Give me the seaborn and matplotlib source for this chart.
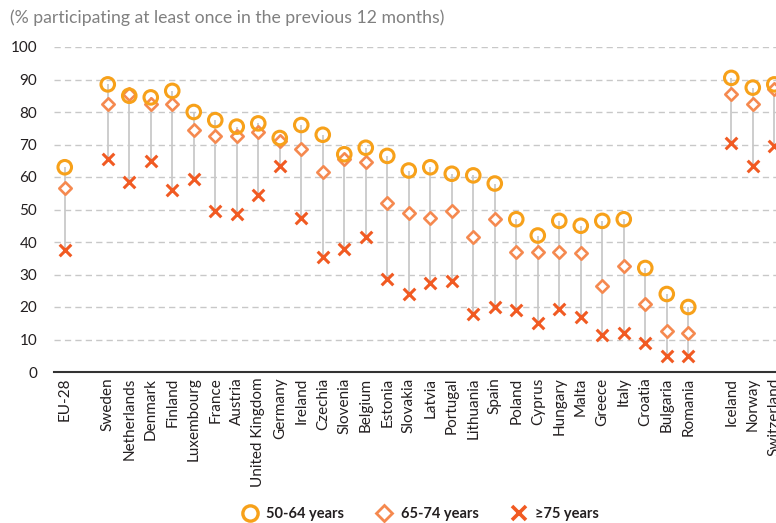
import matplotlib
matplotlib.use("Agg")
import matplotlib.pyplot as plt
from matplotlib.lines import Line2D
import seaborn as sns
import pandas as pd
import numpy as np

categories = ["EU-28", "", "Sweden", "Netherlands", "Denmark", "Finland", "Luxembourg",
              "France", "Austria", "United Kingdom", "Germany", "Ireland", "Czechia",
              "Slovenia", "Belgium", "Estonia", "Slovakia", "Latvia", "Portugal",
              "Lithuania", "Spain", "Poland", "Cyprus", "Hungary", "Malta", "Greece",
              "Italy", "Croatia", "Bulgaria", "Romania", " ", "Iceland", "Norway",
              "Switzerland"]

age_50_64 = [63, None, 88.5, 85, 84.5, 86.5, 80, 77.5, 75.5, 76.5, 72, 76, 73, 67, 69,
             66.5, 62, 63, 61, 60.5, 58, 47, 42, 46.5, 45, 46.5, 47, 32, 24, 20, None,
             90.5, 87.5, 88.5]
age_65_74 = [56.5, None, 82.5, 85.5, 82.5, 82.5, 74.5, 72.5, 72.5, 74, 71, 68.5, 61.5,
             65.5, 64.5, 52, 49, 47.5, 49.5, 41.5, 47, 37, 37, 37, 36.5, 26.5, 32.5, 21,
             12.5, 12, None, 85.5, 82.5, 87]
age_75_plus = [37.5, None, 65.5, 58.5, 65, 56, 59.5, 49.5, 48.5, 54.5, 63.5, 47.5, 35.5,
               38, 41.5, 28.5, 24, 27.5, 28, 18, 20, 19, 15, 19.5, 17, 11.5, 12, 9, 5, 5,
               None, 70.5, 63.5, 69.5]

series_labels = ["50-64 years", "65-74 years", "\u226575 years"]
title_text = "(% participating at least once in the previous 12 months)"

c1, c2, c3 = "#F7A11A", "#F5894F", "#F15A22"

df = pd.DataFrame({
    "pos": np.arange(len(categories)),
    "country": categories,
    "a": pd.to_numeric(pd.Series(age_50_64), errors="coerce"),
    "b": pd.to_numeric(pd.Series(age_65_74), errors="coerce"),
    "c": pd.to_numeric(pd.Series(age_75_plus), errors="coerce"),
})
d = df.dropna()

sns.set_theme(style="white")
plt.rcParams["font.family"] = ["Lato", "DejaVu Sans"]

fig = plt.figure(figsize=(7.76, 5.23), dpi=100)
ax = fig.add_axes([54 / 776, 1 - 372 / 523, 722 / 776, 325 / 523])

# grid
for v in range(10, 101, 10):
    ax.axhline(v, color="#c8c8c8", lw=1.0, ls=(0, (4.5, 3)), zorder=0)

# vertical connectors
lo = d[["a", "b", "c"]].min(axis=1)
hi = d[["a", "b", "c"]].max(axis=1)
ax.vlines(d["pos"], lo, hi, color="#c9c9c9", lw=1.3, zorder=1)

sns.scatterplot(data=d, x="pos", y="c", marker="x", s=70, color=c3, linewidth=2.2,
                ax=ax, zorder=3, legend=False)
sns.scatterplot(data=d, x="pos", y="b", marker="D", s=40, facecolor="white",
                edgecolor=c2, linewidth=1.9, ax=ax, zorder=4, legend=False)
sns.scatterplot(data=d, x="pos", y="a", marker="o", s=95, facecolor="none",
                edgecolor=c1, linewidth=2.2, ax=ax, zorder=5, legend=False)

ax.set_xlim(-0.5, 33.08)
ax.set_ylim(0, 100)
ax.set_xlabel("")
ax.set_ylabel("")

ax.set_yticks(range(0, 101, 10))
ax.set_yticklabels([str(v) for v in range(0, 101, 10)], fontsize=11, color="#231f20")
ax.tick_params(axis="y", length=0, pad=12)

ax.set_xticks(np.arange(-0.5, len(categories) - 0.5, 1.0))
ax.set_xticklabels([])
ax.set_xticks(np.arange(len(categories)), minor=True)
ax.set_xticklabels([c.strip() for c in categories], minor=True, rotation=90,
                   fontsize=11, color="#231f20")
ax.tick_params(axis="x", which="major", length=6, width=1.3, color="#333333", direction="out")
ax.tick_params(axis="x", which="minor", length=0, pad=4)
for lab in ax.get_xticklabels(minor=True):
    lab.set_verticalalignment("top")

for s in ["left", "right", "top"]:
    ax.spines[s].set_visible(False)
ax.spines["bottom"].set_color("#333333")
ax.spines["bottom"].set_linewidth(1.5)

fig.text(10 / 776, 1 - 18 / 523, title_text, fontsize=12.7, color="#808080", va="center",
         ha="left")

handles = [
    Line2D([], [], marker="o", ls="", ms=11, mfc="none", mec=c1, mew=2.4),
    Line2D([], [], marker="D", ls="", ms=8, mfc="white", mec=c2, mew=2.0),
    Line2D([], [], marker="x", ls="", ms=10, color=c3, mew=2.6),
]
leg = fig.legend(handles, series_labels, loc="center", bbox_to_anchor=(420 / 776, 1 - 514 / 523),
                 ncol=3, frameon=False, prop={"weight": "bold", "size": 10.5},
                 handletextpad=0.5, columnspacing=2.2, handlelength=1.2)
for t in leg.get_texts():
    t.set_color("#231f20")

fig.savefig("out.png", dpi=100)
